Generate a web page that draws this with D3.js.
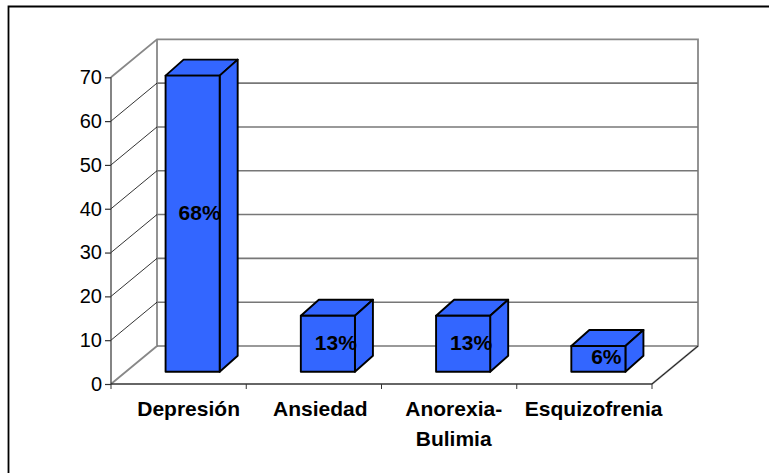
<!DOCTYPE html>
<html><head><meta charset="utf-8">
<script src="https://cdn.jsdelivr.net/npm/d3@7/dist/d3.min.js"></script>
<style>html,body{margin:0;padding:0;background:#fff}svg{display:block}text{font-family:"Liberation Sans",Arial,sans-serif}</style>
</head><body><svg id="c" width="769" height="473"></svg>
<script>
const categories=["Depresión","Ansiedad","Anorexia-|Bulimia","Esquizofrenia"];
const values=[67.6,12.8,12.8,5.9];
const pointLabels=["68%","13%","13%","6%"];
const yTicks=[0,10,20,30,40,50,60,70];
const barFill="#3366ff";
const svg=d3.select("#c");
const x0=111,x1=652,y0=384,y70=77.3,dX=46,dY=38;
const x=d3.scaleBand().domain(categories).range([x0,x1]).paddingInner(0.6).paddingOuter(0.3);
const xb=d3.scaleBand().domain(categories).range([x0,x1]);
const y=d3.scaleLinear().domain([0,70]).range([y0,y70]);
svg.append("path").attr("d","M8.5,473V6.5H769").attr("fill","none").attr("stroke","#000").attr("stroke-width",1.8);
const g=svg.append("g");
g.append("path").attr("d",`M${x0},${y70}L${x0+dX},${y70-dY}H${x1+dX}V${y0-dY}L${x1},${y0}`).attr("fill","none").attr("stroke","#888").attr("stroke-width",1.8);
g.append("path").attr("d",`M${x0+dX},${y70-dY}V${y0-dY}L${x0},${y0}`).attr("fill","none").attr("stroke","#888").attr("stroke-width",1.8);
yTicks.slice(1,-1).forEach(t=>{
 g.append("line").attr("x1",x0).attr("y1",y(t)).attr("x2",x0+dX).attr("y2",y(t)-dY).attr("stroke","#000").attr("stroke-width",0.8);
});
yTicks.slice(0,-1).forEach(t=>{
 g.append("line").attr("x1",x0+dX).attr("y1",y(t)-dY).attr("x2",x1+dX).attr("y2",y(t)-dY).attr("stroke","#777").attr("stroke-width",1.6);
});
g.append("line").attr("x1",x1).attr("y1",y0).attr("x2",x1+dX).attr("y2",y0-dY).attr("stroke","#000").attr("stroke-width",0.8);
const ya=d3.axisLeft(y).tickValues(yTicks).tickSize(6).tickPadding(3);
const yg=svg.append("g").attr("transform",`translate(${x0},0)`).call(ya);
yg.selectAll("text").attr("font-size",20).attr("fill","#000");
yg.selectAll("line,path").attr("stroke","#333").attr("stroke-width",1.2);
yg.select("path").attr("d",`M0,${y70}V${y0}`);
svg.append("line").attr("x1",x0).attr("x2",x1).attr("y1",y0).attr("y2",y0).attr("stroke","#333").attr("stroke-width",1.6);
d3.range(5).forEach(i=>{const px=x0+i*xb.step();
 svg.append("line").attr("x1",px).attr("x2",px).attr("y1",y0).attr("y2",y0+5).attr("stroke","#333").attr("stroke-width",1);});
const fx=14,fy=12.2,ddx=18,ddy=16;
const labelRise=[-4,6.7,6.7,5];
const labelShift=[7,8,8,8];
const bars=svg.selectAll("g.b").data(categories).join("g");
bars.each(function(c,i){
 const s=d3.select(this),l=x(c)+fx,r=l+x.bandwidth(),top=y(values[i])-fy,bot=y0-fy;
 const st=p=>p.attr("fill",barFill).attr("stroke","#000").attr("stroke-width",1.9).attr("stroke-linejoin","round");
 st(s.append("path").attr("d",`M${l},${top}L${l+ddx},${top-ddy}H${r+ddx}L${r},${top}Z`));
 st(s.append("path").attr("d",`M${r},${top}L${r+ddx},${top-ddy}V${bot-ddy}L${r},${bot}Z`));
 st(s.append("rect").attr("x",l).attr("y",top).attr("width",r-l).attr("height",bot-top));
 s.append("text").attr("x",(l+r)/2+labelShift[i]).attr("y",(top+bot)/2+labelRise[i]).attr("text-anchor","middle").attr("font-size",21).attr("font-weight","bold").text(pointLabels[i]);
});
const labelNudge=[10,6.4,4.6,9.3];
categories.forEach((c,i)=>{
 const cx=xb(c)+xb.bandwidth()/2+labelNudge[i];
 c.split("|").forEach((t,j)=>svg.append("text").attr("x",cx).attr("y",415.7+j*30).attr("text-anchor","middle").attr("font-size",21).attr("font-weight","bold").text(t));
});
</script></body></html>
